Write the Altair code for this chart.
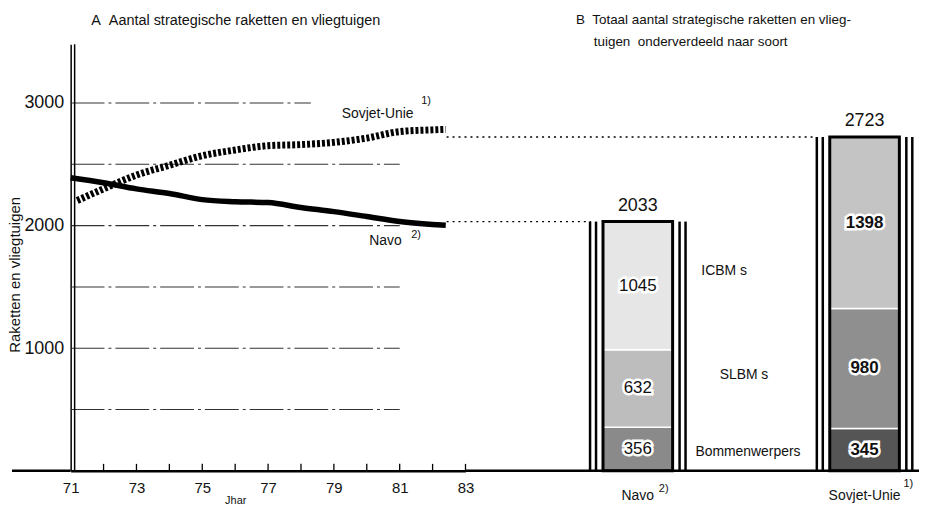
import altair as alt
import pandas as pd

# ---------------- data ----------------
years_navo = [71, 72, 73, 74, 75, 76, 77, 78, 79, 80, 81, 82, 82.4]
navo_line = [2390, 2350, 2300, 2262, 2212, 2195, 2188, 2148, 2114, 2074, 2034, 2010, 2003]
years_sov = [71.2, 72, 73, 74, 75, 76, 77, 78, 79, 80, 81, 82, 82.4]
sov_line = [2205, 2300, 2412, 2492, 2570, 2617, 2652, 2661, 2679, 2714, 2767, 2781, 2785]

grid_values = [500, 1000, 1500, 2000, 2500, 3000]
grid_end_year = [81, 81, 81, 81, 81, 78.3]
tick_years = list(range(72, 84))
year_labels = [71, 73, 75, 77, 79, 81, 83]
y_labels = [1000, 2000, 3000]

countries = ["Navo", "Sovjet-Unie"]
types = ["Bommenwerpers", "SLBM s", "ICBM s"]
navo_parts = [356, 632, 1045]
sov_parts = [345, 980, 1398]
totals = [2033, 2723]

# ---------------- sizes ----------------
YMAX = 3480
W_L, W_R, H = 397, 456, 429
FONT = "Liberation Sans"
INK = "#111111"
NB = "\u00a0"

one = pd.DataFrame({"a": [0]})

xs = alt.Scale(domain=[71, 83], nice=False, zero=False)
ys = alt.Scale(domain=[0, YMAX], nice=False, zero=True)
xaxis = alt.Axis(values=year_labels, labelFontSize=15, labelPadding=10, ticks=False,
                 grid=False, domainColor="black", domainWidth=2.5, title=None,
                 labelColor=INK, format="d", labelFlush=False)
yaxis = alt.Axis(values=y_labels, labelFontSize=18, labelPadding=7, ticks=False,
                 grid=False, domainColor="black", domainWidth=1.5, title=None,
                 labelColor=INK, format="d", labelFlush=False)


def XQ(field):
    return alt.X(f"{field}:Q", scale=xs, axis=xaxis)


def YQ(field):
    return alt.Y(f"{field}:Q", scale=ys, axis=yaxis)


def label(text, x, y, size=13, align="center", angle=0, weight="normal"):
    return alt.Chart(one).mark_text(text=text, fontSize=size, align=align, angle=angle,
                                    baseline="middle", color=INK, font=FONT,
                                    fontWeight=weight).encode(x=alt.value(x), y=alt.value(y))


def dlabel(text, xv, yv, size=14):
    d = pd.DataFrame({"year": [xv], "value": [yv]})
    return alt.Chart(d).mark_text(text=text, fontSize=size, baseline="middle",
                                  color=INK, font=FONT).encode(x=XQ("year"), y=YQ("value"))


# ---------------- left panel ----------------
navo_df = pd.DataFrame({"year": years_navo, "value": navo_line})
sov_df = pd.DataFrame({"year": years_sov, "value": sov_line})
grid_df = pd.DataFrame({"value": grid_values, "end": grid_end_year})
grid_df["start"] = xs.domain[0]
tick_df = pd.DataFrame({"year": tick_years})

grid = alt.Chart(grid_df).mark_rule(color="#333333", strokeWidth=1.1,
                                    strokeDash=[34, 4, 3, 4]).encode(
    x=XQ("start"), x2="end:Q", y=YQ("value"))

ticks = alt.Chart(tick_df).mark_rule(color="black", strokeWidth=1.3).encode(
    x=XQ("year"), y=alt.value(H), y2=alt.value(H - 7))

navo_l = alt.Chart(navo_df).mark_line(color="black", strokeWidth=5.5,
                                      interpolate="monotone").encode(x=XQ("year"), y=YQ("value"))
sov_l = alt.Chart(sov_df).mark_line(color="black", strokeWidth=7, strokeDash=[3, 2],
                                    interpolate="monotone").encode(x=XQ("year"), y=YQ("value"))

base_ext = alt.Chart(one).mark_rule(color="black", strokeWidth=2.5).encode(
    x=alt.value(-59), x2=alt.value(0), y=alt.value(H))
axis2 = alt.Chart(one).mark_rule(color="black", strokeWidth=1.5).encode(
    x=alt.value(4), y=alt.value(0), y2=alt.value(H))

left = alt.layer(
    grid, ticks, axis2, base_ext, navo_l, sov_l,
    label(f"A{NB}{NB}Aantal strategische raketten en vliegtuigen", 166, -23, size=14.5),
    label("Raketten en vliegtuigen", -56, 232, size=15, angle=270),
    label("Jhar", 166, H + 30, size=11),
    dlabel("Sovjet-Unie", 80.33, 2912, 14),
    dlabel("1)", 81.8, 3017, 11),
    dlabel("Navo", 80.57, 1874, 14),
    dlabel("2)", 81.5, 1922, 11),
).properties(width=W_L, height=H)

# ---------------- right panel ----------------
rows = []
for c, parts in zip(countries, [navo_parts, sov_parts]):
    lo = 0
    for t, v in zip(types, parts):
        rows.append({"country": c, "type": t, "seg": c + "|" + t, "value": v,
                     "lo": lo, "hi": lo + v, "mid": lo + v / 2})
        lo += v
seg_df = pd.DataFrame(rows)
tot_df = pd.DataFrame({"country": countries, "total": totals, "base": [0, 0]})

xb = alt.Scale(domain=countries, paddingInner=0.693, paddingOuter=0.3465, align=0.875)
xbaxis = alt.Axis(title=None, domain=False, ticks=False, labelFontSize=14, labelPadding=18,
                  labelAngle=0, labelColor=INK, grid=False)
XB = alt.X("country:N", scale=xb, axis=xbaxis)
seg_domain = [c + "|" + t for c in countries for t in types]
seg_range = ["#8a8a8a", "#bdbdbd", "#e6e6e6", "#555555", "#8f8f8f", "#c4c4c4"]

segs = alt.Chart(seg_df).mark_bar(stroke="white", strokeWidth=1.5).encode(
    x=XB, y=alt.Y("lo:Q", scale=ys, axis=None), y2="hi:Q",
    color=alt.Color("seg:N", scale=alt.Scale(domain=seg_domain, range=seg_range), legend=None))
outline = alt.Chart(tot_df).mark_bar(filled=False, color="black", strokeWidth=3).encode(
    x=XB, y=alt.Y("total:Q", scale=ys, axis=None), y2="base:Q")
side = [alt.Chart(tot_df).mark_rule(xOffset=o, strokeWidth=2.5, color="black").encode(
    x=XB, y=alt.Y("total:Q", scale=ys, axis=None), y2="base:Q") for o in [-48, -42, 42, 48]]
conn = [alt.Chart(tot_df[tot_df.country == c]).mark_rule(strokeWidth=1.3, strokeDash=[2, 4],
                                                          color="black").encode(
    x=alt.value(-19), x2=alt.value(xe), y=alt.Y("total:Q", scale=ys, axis=None))
    for c, xe in [("Navo", 126), ("Sovjet-Unie", 352)]]
baseline = alt.Chart(one).mark_rule(color="black", strokeWidth=2.5).encode(
    x=alt.value(0), x2=alt.value(W_R), y=alt.value(H))
tot_txt = alt.Chart(tot_df).mark_text(fontSize=18, dy=-16, color=INK, font=FONT).encode(
    x=XB, y=alt.Y("total:Q", scale=ys, axis=None), text="total:Q")

navo_seg = seg_df[seg_df.country == "Navo"]
sov_seg = seg_df[seg_df.country == "Sovjet-Unie"]


def seg_text(df, weight):
    enc = dict(x=XB, y=alt.Y("mid:Q", scale=ys, axis=None), text="value:Q")
    halo = alt.Chart(df).mark_text(fontSize=17, fontWeight=weight, stroke="white",
                                   strokeWidth=5, color="white", font=FONT).encode(**enc)
    txt = alt.Chart(df).mark_text(fontSize=17, fontWeight=weight, color=INK,
                                  font=FONT).encode(**enc)
    return [halo, txt]


sup = [alt.Chart(tot_df[tot_df.country == c]).mark_text(text=s, fontSize=11, xOffset=o,
                                                          color=INK, font=FONT).encode(
    x=XB, y=alt.value(yv)) for c, s, o, yv in [("Navo", "2)", 26, 447), ("Sovjet-Unie", "1)", 44, 442)]]

right = alt.layer(
    *conn, segs, outline, *side, baseline, tot_txt,
    *seg_text(navo_seg, "normal"), *seg_text(sov_seg, "bold"),
    *sup,
    label("ICBM s", 260, 228, size=14),
    label("SLBM s", 280, 333, size=14),
    label("Bommenwerpers", 284, 410, size=14),
    label(f"B{NB}{NB}Totaal aantal strategische raketten en vlieg-", 111, -24, size=13.5, align="left"),
    label(f"tuigen{NB}{NB}onderverdeeld naar soort", 129, -2, size=13.5, align="left"),
).properties(width=W_R, height=H)

chart = alt.hconcat(left, right, spacing=0, bounds="flush").configure(
    font=FONT, padding={"left": 0, "top": 4, "right": 0, "bottom": 0}
).configure_view(stroke=None)

chart.save("out.html", embed_options={"renderer": "svg", "actions": False})
